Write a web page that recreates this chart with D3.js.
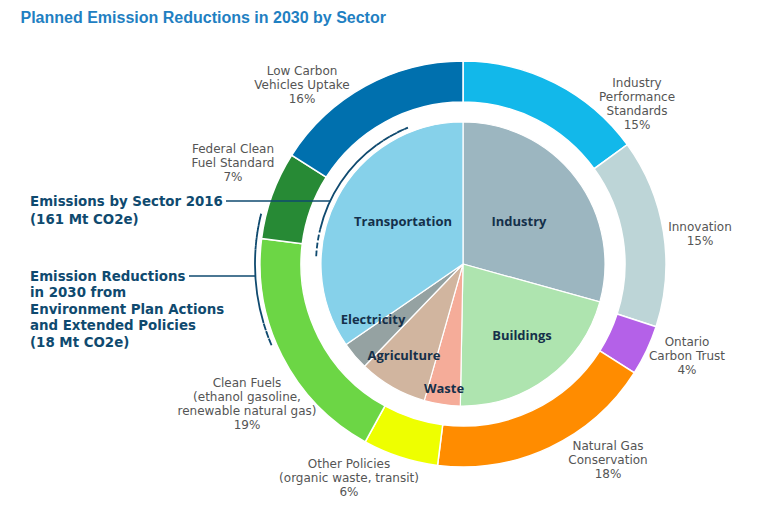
<!DOCTYPE html>
<html>
<head>
<meta charset="utf-8">
<script src="https://cdn.jsdelivr.net/npm/d3@7/dist/d3.min.js"></script>
<style>
  html, body { margin: 0; padding: 0; background: #fff; }
  svg { display: block; }
</style>
</head>
<body>
<svg id="chart" width="759" height="511"></svg>
<script>
// ---- Data ----
const title = "Planned Emission Reductions in 2030 by Sector";

// Inner pie: emissions by sector 2016 (share of 161 Mt CO2e), clockwise from top
const sectors = ["Industry", "Buildings", "Waste", "Agriculture", "Electricity", "Transportation"];
const sectorShares = [29.3, 21.0, 4.1, 7.8, 3.2, 34.6];
const sectorColors = ["#9cb6c0", "#aee4af", "#f5ac99", "#d1b59f", "#95a2a2", "#86d1ea"];

// Outer ring: planned reductions in 2030 (share of 18 Mt CO2e), clockwise from top
const policies = [
  ["Industry", "Performance", "Standards"],
  ["Innovation"],
  ["Ontario", "Carbon Trust"],
  ["Natural Gas", "Conservation"],
  ["Other Policies", "(organic waste, transit)"],
  ["Clean Fuels", "(ethanol gasoline,", "renewable natural gas)"],
  ["Federal Clean", "Fuel Standard"],
  ["Low Carbon", "Vehicles Uptake"]
];
const policyShares = [15, 15, 4, 18, 6, 19, 7, 16];
const policyColors = ["#12b8ea", "#bdd5d7", "#b461e8", "#ff8c00", "#eeff00", "#6cd645", "#278a35", "#0070ae"];

const annotation1 = ["Emissions by Sector 2016", "(161 Mt CO2e)"];
const annotation2 = ["Emission Reductions", "in 2030 from", "Environment Plan Actions", "and Extended Policies", "(18 Mt CO2e)"];

// ---- Layout (styling only) ----
const cx = 463, cy = 264;
const pieR = 142, ringIn = 162, ringOut = 203;
const innerBracketR = 147, outerBracketR = 208;
// label offsets relative to chart centre (first line centre)
const policyLabelPos = [[174, -181], [237, -37], [224, 78], [145, 182], [-114, 200], [-216, 119], [-230, -115], [-161, -193]];
const sectorLabelPos = [[56, -43], [59, 71], [-19, 124], [-59, 91], [-90, 55], [-60, -43]];
const lineH = 14;
const navy = "#0f4a6f";
const labelFont = "DejaVu Sans, sans-serif";
const sectorFont = "Open Sans, sans-serif";

const svg = d3.select("#chart");

// font-size fitting helper: size so that sample text has target width
function fitSize(family, weight, sample, targetW) {
  const t = svg.append("text").attr("font-family", family).attr("font-weight", weight)
    .attr("font-size", 20).text(sample);
  const w = t.node().getComputedTextLength();
  t.remove();
  return 20 * targetW / w;
}
const policyFS = fitSize(labelFont, "normal", "renewable natural gas)", 139);
const sectorFS = fitSize(sectorFont, "bold", "Transportation", 98);
const annotFS = fitSize(labelFont, "bold", "Emissions by Sector 2016", 193);

svg.append("text")
  .attr("x", 20.5).attr("y", 23)
  .attr("font-family", "Liberation Sans, Arial, sans-serif")
  .attr("font-weight", "bold").attr("font-size", 16)
  .attr("fill", "#1f80c2")
  .text(title);

const g = svg.append("g").attr("transform", `translate(${cx},${cy})`);
const pie = d3.pie().sort(null).value(d => d);
const deg = Math.PI / 180;

// Inner pie
const sectorArcs = pie(sectorShares);
const pieArc = d3.arc().innerRadius(0).outerRadius(pieR);
g.selectAll("path.sector").data(sectorArcs).join("path")
  .attr("class", "sector")
  .attr("d", pieArc)
  .attr("fill", (d, i) => sectorColors[i])
  .attr("stroke", "#fff").attr("stroke-width", 1.2);

// Outer ring
const policyArcs = pie(policyShares);
const ringArc = d3.arc().innerRadius(ringIn).outerRadius(ringOut);
g.selectAll("path.policy").data(policyArcs).join("path")
  .attr("class", "policy")
  .attr("d", ringArc)
  .attr("fill", (d, i) => policyColors[i])
  .attr("stroke", "#fff").attr("stroke-width", 1.5);

// Sector labels
g.selectAll("text.sector").data(sectors).join("text")
  .attr("class", "sector")
  .attr("x", (d, i) => sectorLabelPos[i][0])
  .attr("y", (d, i) => sectorLabelPos[i][1])
  .attr("text-anchor", "middle").attr("dominant-baseline", "central")
  .attr("font-family", sectorFont).attr("font-weight", "bold").attr("font-size", sectorFS)
  .attr("fill", "#15304a")
  .text(d => d);

// Policy labels
policies.forEach((lines, i) => {
  const all = lines.concat([policyShares[i] + "%"]);
  all.forEach((ln, j) => {
    g.append("text")
      .attr("text-anchor", "middle")
      .attr("font-family", labelFont).attr("font-size", policyFS)
      .attr("fill", "#555")
      .attr("x", policyLabelPos[i][0])
      .attr("y", policyLabelPos[i][1] + j * lineH)
      .attr("dominant-baseline", "central")
      .text(ln);
  });
});

// Bracket arcs (solid middle, dashed ends)
function bracket(r, a0, a1, a2, a3) {
  const mk = (s, e) => d3.arc().innerRadius(r).outerRadius(r).startAngle(s * deg).endAngle(e * deg)();
  g.append("path").attr("d", mk(a0, a1)).attr("fill", "none").attr("stroke", navy)
    .attr("stroke-width", 1.8).attr("stroke-dasharray", "5,3");
  g.append("path").attr("d", mk(a1, a2)).attr("fill", "none").attr("stroke", navy)
    .attr("stroke-width", 1.8);
  g.append("path").attr("d", mk(a2, a3)).attr("fill", "none").attr("stroke", navy)
    .attr("stroke-width", 1.8).attr("stroke-dasharray", "5,3");
}
bracket(innerBracketR, 273, 283.5, 324, 338);
bracket(outerBracketR, 247, 253.5, 274, 284);

// Leader lines
const y1 = 201 - cy;
const x1 = -Math.sqrt(innerBracketR * innerBracketR - y1 * y1);
g.append("line").attr("x1", 226 - cx).attr("x2", x1).attr("y1", y1).attr("y2", y1)
  .attr("stroke", navy).attr("stroke-width", 1.5);
const y2 = 276 - cy;
const x2 = -Math.sqrt(outerBracketR * outerBracketR - y2 * y2);
g.append("line").attr("x1", 189 - cx).attr("x2", x2).attr("y1", y2).attr("y2", y2)
  .attr("stroke", navy).attr("stroke-width", 1.5);

// Annotations
function annot(lines, y0, step) {
  lines.forEach((ln, j) => {
    svg.append("text")
      .attr("font-family", labelFont).attr("font-weight", "bold").attr("font-size", annotFS)
      .attr("fill", navy)
      .attr("x", 30).attr("y", y0 + j * step)
      .attr("dominant-baseline", "central").text(ln);
  });
}
annot(annotation1, 201.5, 17.5);
annot(annotation2, 276, 16.5);
</script>
</body>
</html>
